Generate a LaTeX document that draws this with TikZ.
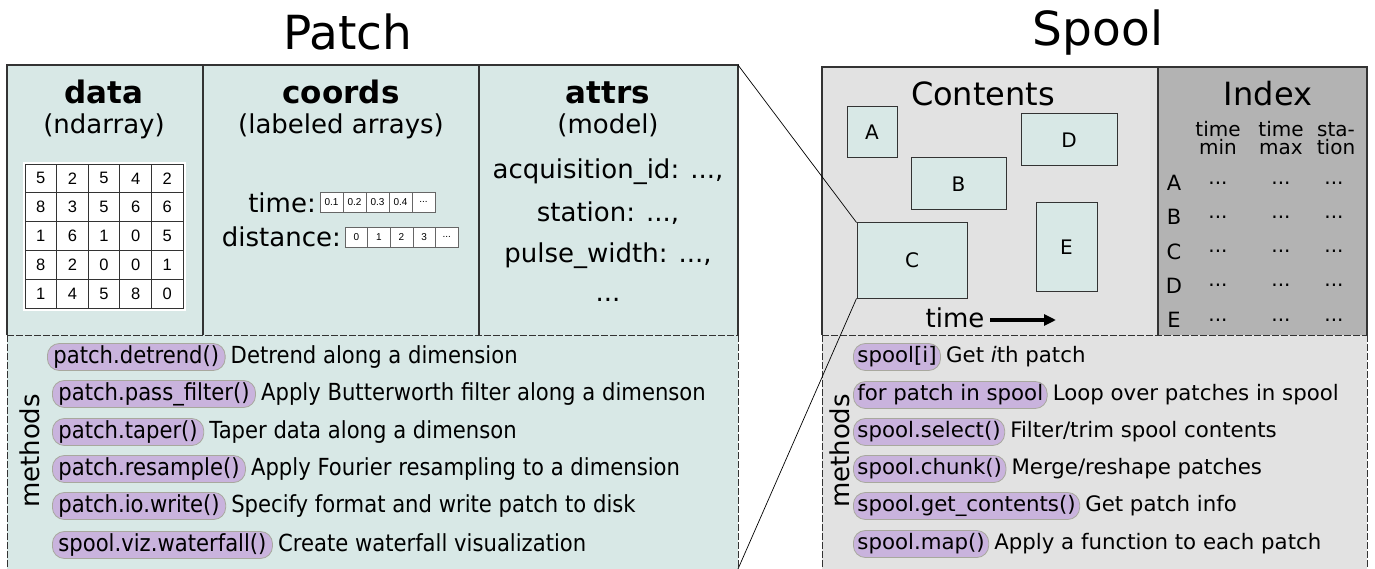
\documentclass[tikz,border=0pt]{standalone}
\usepackage{fontspec}
\setmainfont{DejaVu Sans}
\newfontfamily\condfont[FakeStretch=0.9]{DejaVu Sans}
\newfontfamily\arialfont{Liberation Sans}
\usetikzlibrary{arrows.meta}
\definecolor{pteal}{HTML}{D8E8E6}
\definecolor{sgray}{HTML}{E2E2E2}
\definecolor{igray}{HTML}{B3B3B3}
\definecolor{pillc}{HTML}{C9B3DD}
\definecolor{pillb}{HTML}{A8A89E}
\definecolor{edge}{HTML}{333333}
\newcommand\mydots{...}
\begin{document}
\begin{tikzpicture}[x=1pt,y=-1pt,
  border/.style={draw=edge, line width=1.3pt},
  dashln/.style={draw=edge, line width=1pt, dash pattern=on 7pt off 2pt},
  title/.style={font=\fontsize{47}{50}\selectfont, anchor=base, inner sep=0},
  head/.style={font=\bfseries\fontsize{31}{34}\selectfont, anchor=base, inner sep=0},
  sub/.style={font=\fontsize{26}{28}\selectfont, anchor=base, inner sep=0},
  big/.style={font=\fontsize{32}{34}\selectfont, anchor=base, inner sep=0},
  idx/.style={font=\fontsize{20}{18}\selectfont, anchor=base, inner sep=0},
  cell/.style={draw=edge, fill=white, minimum width=31.6pt, minimum height=28.8pt, inner sep=0, line width=0.8pt, font=\arialfont\fontsize{16.5}{16}\selectfont},
  arrcell/.style={draw=black!60, fill=white, minimum height=20pt, inner sep=0, line width=0.6pt, font=\arialfont\fontsize{10}{10}\selectfont},
  pbox/.style={draw=edge, fill=pteal, line width=1pt, inner sep=0, font=\fontsize{20}{20}\selectfont},
  pillP/.style={fill=pillc, draw=pillb, line width=0.8pt, rounded corners=12pt, anchor=west, minimum height=27pt, inner xsep=6pt, inner ysep=0, text height=18pt, text depth=5pt, font=\condfont\fontsize{23.5}{24}\selectfont},
  descP/.style={anchor=west, inner xsep=0, inner ysep=0, text height=18pt, text depth=5pt, font=\condfont\fontsize{23.5}{24}\selectfont},
  pillS/.style={fill=pillc, draw=pillb, line width=0.8pt, rounded corners=12pt, anchor=west, minimum height=27pt, inner xsep=4pt, inner ysep=0, text height=16pt, text depth=4.5pt, font=\fontsize{21.3}{22}\selectfont},
  descS/.style={anchor=west, inner xsep=0, inner ysep=0, text height=16pt, text depth=4.5pt, font=\fontsize{21.3}{22}\selectfont},
  conn/.style={draw=black, line width=0.7pt}
]
\useasboundingbox (0,0) rectangle (1375,569);

% ---------- backgrounds ----------
\fill[pteal] (7,65) rectangle (738,569);
\fill[sgray] (822,67) rectangle (1367,569);
\fill[igray] (1158,67) rectangle (1367,335);

% ---------- Patch frame ----------
\draw[border] (7,335) -- (7,65) -- (738,65) -- (738,335);
\draw[border] (203,65) -- (203,335);
\draw[border] (479,65) -- (479,335);
\draw[dashln] (7,335) -- (738,335);
\draw[dashln] (7,335) -- (7,569);
\draw[dashln] (738,335) -- (738,569);
\coordinate (ptr) at (738,65);
\coordinate (pbr) at (738,569);

% ---------- Spool frame ----------
\draw[border] (822,335) -- (822,67) -- (1367,67) -- (1367,335);
\draw[border] (1158,67) -- (1158,335);
\draw[dashln] (822,335) -- (1367,335);
\draw[dashln] (822,335) -- (822,569);
\draw[dashln] (1367,335) -- (1367,569);

% ---------- titles ----------
\node[title] (tpatch) at (348,50) {Patch};
\node[title] (tspool) at (1098,46) {Spool};

% ---------- data ----------
\node[head] (hdata) at (104,104) {data};
\node[sub] (sdata) at (104,134) {(ndarray)};
\fill[white] (23,162) rectangle (186,311);
\foreach \row [count=\r] in {{5,2,5,4,2},{8,3,5,6,6},{1,6,1,0,5},{8,2,0,0,1},{1,4,5,8,0}} {
  \foreach \v [count=\c] in \row {
    \node[cell] (m\r\c) at ({25+15.8+(\c-1)*31.6},{164+14.4+(\r-1)*28.8}) {\v};
  }
}

% ---------- coords ----------
\node[head] (hcoords) at (341,104) {coords};
\node[sub] (scoords) at (341,134) {(labeled arrays)};
\node[sub, anchor=base east] (ltime) at (316,213) {time:};
\node[sub, anchor=base east] (ldist) at (341,247) {distance:};
\node[arrcell, minimum width=23pt] (t1) at (331.5,202) {0.1};
\node[arrcell, minimum width=23pt] (t2) at (354.5,202) {0.2};
\node[arrcell, minimum width=23pt] (t3) at (377.5,202) {0.3};
\node[arrcell, minimum width=23pt] (t4) at (400.5,202) {0.4};
\node[arrcell, minimum width=23pt] (t5) at (423.5,202) {\mydots};
\node[arrcell, minimum width=22.6pt] (d1) at (356.3,237) {0};
\node[arrcell, minimum width=22.6pt] (d2) at (378.9,237) {1};
\node[arrcell, minimum width=22.6pt] (d3) at (401.5,237) {2};
\node[arrcell, minimum width=22.6pt] (d4) at (424.1,237) {3};
\node[arrcell, minimum width=22.6pt] (d5) at (446.7,237) {\mydots};

% ---------- attrs ----------
\node[head] (hattrs) at (608,104) {attrs};
\node[sub] (sattrs) at (608,134) {(model)};
\node[sub] (a1) at (608,179) {acquisition\_id: \mydots,};
\node[sub] (a2) at (608,222) {station: \mydots,};
\node[sub] (a3) at (608,262) {pulse\_width: \mydots,};
\node[sub] (a4) at (608,301) {\mydots};

% ---------- Contents ----------
\node[big] (hcont) at (983,106) {Contents};
\node[pbox, minimum width=50pt, minimum height=51pt] (A) at (872,132.5) {A};
\node[pbox, minimum width=95pt, minimum height=52pt] (B) at (958.5,184) {B};
\node[pbox, minimum width=96pt, minimum height=52pt] (D) at (1069,140) {D};
\node[pbox, minimum width=110pt, minimum height=75pt] (C) at (912,260.5) {C};
\node[pbox, minimum width=61pt, minimum height=88pt] (E) at (1066.5,247) {E};
\node[sub] (tl) at (955,327) {time};
\coordinate (ta0) at (990,320);
\coordinate (ta1) at (1056,320);
\draw[line width=4pt, -{Triangle[length=12pt,width=11pt]}] (ta0) -- (ta1);

% ---------- Index ----------
\node[big] (hidx) at (1268,106) {Index};
\node[idx] (c1a) at (1218,137) {time};
\node[idx] (c1b) at (1218,155) {min};
\node[idx] (c2a) at (1281,137) {time};
\node[idx] (c2b) at (1281,155) {max};
\node[idx] (c3a) at (1336,137) {sta-};
\node[idx] (c3b) at (1336,155) {tion};
\foreach \L [count=\i] in {A,B,C,D,E} {
  \node[idx, font=\fontsize{21}{22}\selectfont] (r\i) at (1174,{191+(\i-1)*34}) {\L};
  \node[idx] (r\i a) at (1218,{185+(\i-1)*34}) {\mydots};
  \node[idx] (r\i b) at (1281,{185+(\i-1)*34}) {\mydots};
  \node[idx] (r\i c) at (1334,{185+(\i-1)*34}) {\mydots};
}

% ---------- connectors ----------
\draw[conn] (ptr) -- (C.north west);
\draw[conn] (C.south west) -- (pbr);

% ---------- Patch methods ----------
\node[sub, rotate=90] (pmeth) at (39,451) {methods};
\node[pillP] (p1) at (47,357) {patch.detrend()};
\node[descP] (q1) at ([xshift=5pt]p1.east) {Detrend along a dimension};
\node[pillP] (p2) at (52,394) {patch.pass\_filter()};
\node[descP] (q2) at ([xshift=5pt]p2.east) {Apply Butterworth filter along a dimenson};
\node[pillP] (p3) at (52,432) {patch.taper()};
\node[descP] (q3) at ([xshift=5pt]p3.east) {Taper data along a dimenson};
\node[pillP] (p4) at (52,469) {patch.resample()};
\node[descP] (q4) at ([xshift=5pt]p4.east) {Apply Fourier resampling to a dimension};
\node[pillP] (p5) at (52,506) {patch.io.write()};
\node[descP] (q5) at ([xshift=5pt]p5.east) {Specify format and write patch to disk};
\node[pillP] (p6) at (52,545) {spool.viz.waterfall()};
\node[descP] (q6) at ([xshift=5pt]p6.east) {Create waterfall visualization};

% ---------- Spool methods ----------
\node[sub, rotate=90] (smeth) at (849,451) {methods};
\node[pillS] (s1) at (853,357) {spool[i]};
\node[descS] (u1) at ([xshift=5pt]s1.east) {Get \textit{i}th patch};
\node[pillS] (s2) at (853,395) {for patch in spool};
\node[descS] (u2) at ([xshift=5pt]s2.east) {Loop over patches in spool};
\node[pillS] (s3) at (853,432) {spool.select()};
\node[descS] (u3) at ([xshift=5pt]s3.east) {Filter/trim spool contents};
\node[pillS] (s4) at (853,469) {spool.chunk()};
\node[descS] (u4) at ([xshift=5pt]s4.east) {Merge/reshape patches};
\node[pillS] (s5) at (853,506) {spool.get\_contents()};
\node[descS] (u5) at ([xshift=5pt]s5.east) {Get patch info};
\node[pillS] (s6) at (853,544) {spool.map()};
\node[descS] (u6) at ([xshift=5pt]s6.east) {Apply a function to each patch};
\end{tikzpicture}
\end{document}
